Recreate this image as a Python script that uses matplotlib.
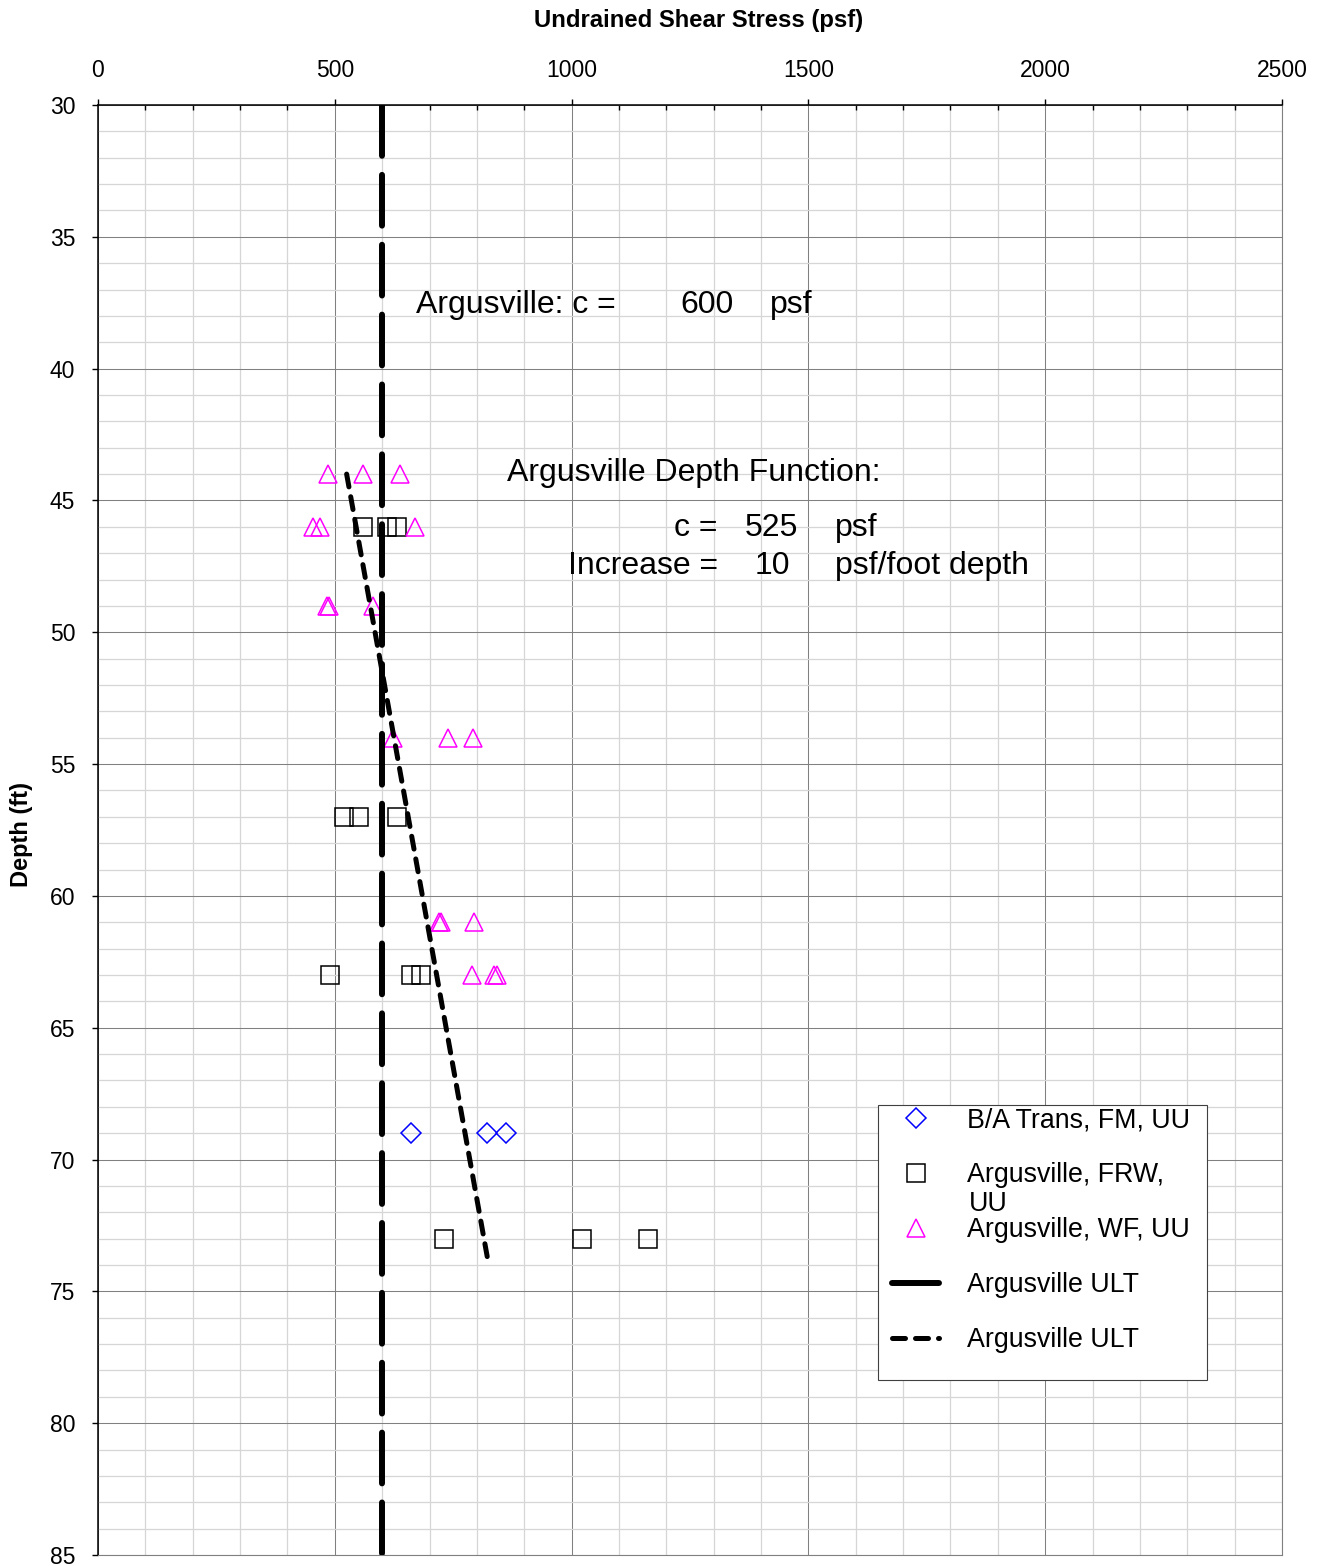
import matplotlib
matplotlib.use("Agg")
import matplotlib.pyplot as plt
from matplotlib.ticker import MultipleLocator
from matplotlib.patches import Rectangle

plt.rcParams['font.family'] = ['Liberation Sans', 'DejaVu Sans']

# B/A Trans, FM, UU
ba_depth = [69, 69, 69]
ba_c = [661, 821, 861]

# Argusville, FRW, UU
frw_depth = [46, 46, 46, 57, 57, 57, 63, 63, 63, 73, 73, 73]
frw_c = [560, 610, 631, 520, 551, 632, 490, 661, 681, 731, 1021, 1162]

# Argusville, WF, UU
wf_depth = [44, 44, 44, 46, 46, 46, 49, 49, 49, 54, 54, 54, 61, 61, 61, 63, 63, 63]
wf_c = [486, 560, 638, 453, 469, 669, 483, 488, 581, 622, 740, 792, 720, 724, 793, 790, 836, 843]

# design lines
ult_depth = [30, 85]
ult_c = [600, 600]
func_depth = [44, 74]
func_c = [525, 825]

fig = plt.figure(figsize=(13.24, 15.66), dpi=100)
W, H = 1324, 1566
ax = fig.add_axes([98 / W, 1 - 1555 / H, (1282 - 98) / W, (1555 - 105) / H])

ax.plot(ba_c, ba_depth, linestyle='none', marker='D', markersize=9.7,
        markerfacecolor='none', markeredgecolor='#0000ff', markeredgewidth=1.1,
        label='B/A Trans, FM, UU', zorder=3)
ax.plot(frw_c, frw_depth, linestyle='none', marker='s', markersize=13.5,
        markerfacecolor='none', markeredgecolor='black', markeredgewidth=1.1,
        label='Argusville, FRW,', zorder=3)
ax.plot(wf_c, wf_depth, linestyle='none', marker='^', markersize=13.5,
        markerfacecolor='none', markeredgecolor='#ff00ff', markeredgewidth=1.1,
        label='Argusville, WF, UU', zorder=3)
ax.plot(ult_c, ult_depth, color='black', lw=4.3, linestyle=(0, (8.5, 3.2)),
        dash_capstyle='round', label='Argusville ULT', zorder=4)
ax.plot(func_c, func_depth, color='black', lw=3.6, linestyle=(0, (2.6, 2.0)),
        dash_capstyle='round', label='Argusville ULT', zorder=4)

ax.set_xlim(0, 2500)
ax.set_ylim(85, 30)
ax.xaxis.tick_top()
ax.xaxis.set_major_locator(MultipleLocator(500))
ax.xaxis.set_minor_locator(MultipleLocator(100))
ax.yaxis.set_major_locator(MultipleLocator(5))
ax.yaxis.set_minor_locator(MultipleLocator(1))
ax.tick_params(axis='x', which='major', direction='out', length=4.3, width=1,
               labelsize=16.5, pad=12)
ax.tick_params(axis='x', which='minor', direction='in', length=3.5, width=1)
ax.tick_params(axis='y', which='major', direction='out', length=4.3, width=1,
               labelsize=16.5, pad=12)
ax.tick_params(axis='y', which='minor', length=0)

ax.grid(which='major', color='#808080', lw=0.75)
ax.grid(which='minor', color='#d6d6d6', lw=0.9)
ax.set_axisbelow(True)
for s in ['left', 'top']:
    ax.spines[s].set_linewidth(1.1)
    ax.spines[s].set_color('black')
for s in ['right', 'bottom']:
    ax.spines[s].set_linewidth(0.8)
    ax.spines[s].set_color('#808080')

ax.set_xlabel('Undrained Shear Stress (psf)', fontsize=17.2, fontweight='bold')
ax.xaxis.set_label_position('top')
ax.xaxis.set_label_coords(0.507, 1.0586)
ax.xaxis.label.set_va('center')
ax.set_ylabel('Depth (ft)', fontsize=17, fontweight='bold')
ax.yaxis.set_label_coords(-0.0642, 0.497)
ax.yaxis.label.set_va('center')

fs = 23
ax.text(671, 37.6, 'Argusville: c =', fontsize=fs, va='center', ha='left')
ax.text(1286, 37.6, '600', fontsize=fs, va='center', ha='center')
ax.text(1419, 37.6, 'psf', fontsize=fs, va='center', ha='left')
ax.text(864, 43.95, 'Argusville Depth Function:', fontsize=fs, va='center', ha='left')
ax.text(1309, 46.05, 'c =', fontsize=fs, va='center', ha='right')
ax.text(1423, 46.05, '525', fontsize=fs, va='center', ha='center')
ax.text(1556, 46.05, 'psf', fontsize=fs, va='center', ha='left')
ax.text(1309, 47.5, 'Increase =', fontsize=fs, va='center', ha='right')
ax.text(1423, 47.5, '10', fontsize=fs, va='center', ha='center')
ax.text(1556, 47.5, 'psf/foot depth', fontsize=fs, va='center', ha='left')

# legend
fig.patches.append(Rectangle((878 / W, 1 - 1380 / H), (1207 - 878) / W, (1380 - 1105) / H,
                             transform=fig.transFigure, facecolor='white',
                             edgecolor='#404040', lw=0.8, zorder=5))
leg = fig.legend(loc='upper left', bbox_to_anchor=(879 / W, 1 - 1094 / H),
                 frameon=False, fontsize=19.3, borderpad=0, handlelength=1.75,
                 handletextpad=1.05, labelspacing=1.08, numpoints=1)
leg.set_zorder(6)
fig.text(969 / W, 1 - 1204 / H, 'UU', fontsize=19.3, va='center', ha='left', zorder=7)

fig.savefig('out.png', dpi=100)
